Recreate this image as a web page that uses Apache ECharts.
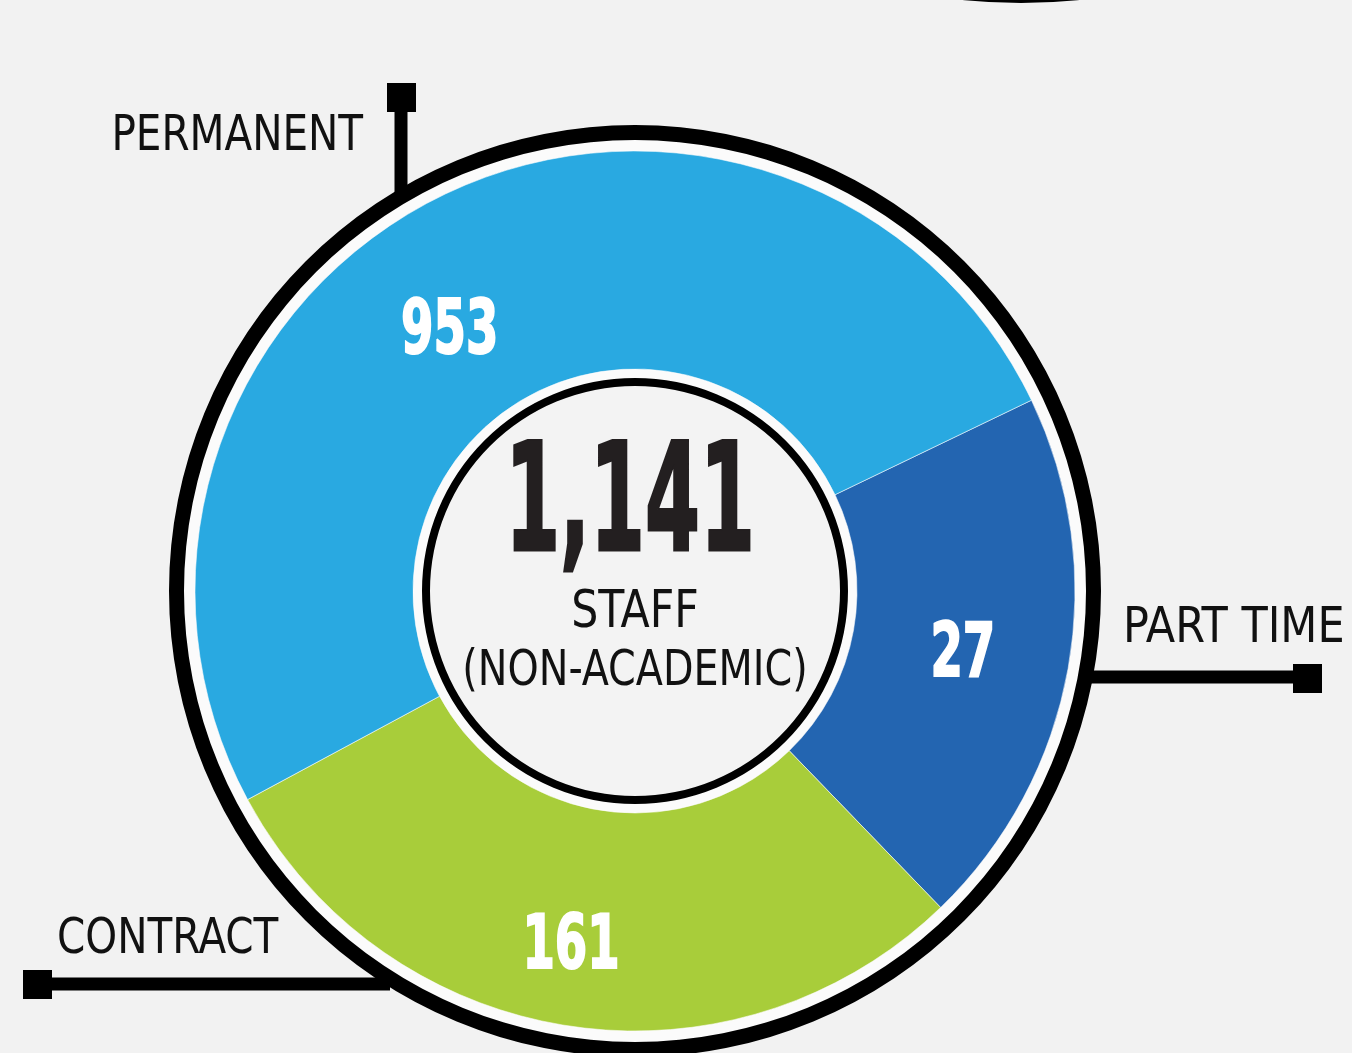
<!DOCTYPE html>
<html>
<head>
<meta charset="utf-8">
<script src="https://cdn.jsdelivr.net/npm/echarts@6/dist/echarts.min.js"></script>
<style>
html,body{margin:0;padding:0;background:#f2f2f2;}
#chart{width:1352px;height:1053px;}
</style>
</head>
<body>
<div id="chart"></div>
<script>
// ---- data (drawing order, clockwise from the part-time edge) ----
var categories = ['PART TIME', 'CONTRACT', 'PERMANENT'];
var staffCounts = [27, 161, 953];
// arc size of each slice as drawn in the original graphic (degrees)
var drawnArcDeg = [71.7, 105.7, 182.6];
var sliceColors = ['#2365b1', '#a8cd3a', '#29a9e1'];
var totalLabel = '1,141';
var centerLines = ['STAFF', '(NON-ACADEMIC)'];

var CX = 635, CY = 591, START = 25.7;
var FONT = "'Liberation Sans Narrow', 'DejaVu Sans Condensed', 'Roboto', sans-serif";

var chart = echarts.init(document.getElementById('chart'), null, {renderer: 'canvas'});

var pieData = categories.map(function (c, i) {
  return {name: c, value: drawnArcDeg[i], itemStyle: {color: sliceColors[i]}};
});

// value labels placed at each slice's mid-angle through a polar axis that mirrors the pie
// polar dimensions are [radius, angle]
var cum = 0;
var labelData = categories.map(function (c, i) {
  var mid = cum + drawnArcDeg[i] / 2;
  cum += drawnArcDeg[i];
  return [0.5, mid, staffCounts[i]];
});
var labelShift = [[2, 7], [-13, 31], [-35, 38]];

function calloutText(name, x, y, align, sx) {
  return {type: 'text', z: 10, x: x, y: y, scaleX: sx, style: {text: name, x: 0, y: 0, textAlign: align,
    textVerticalAlign: 'middle', font: '50px ' + FONT, fill: '#111'}};
}

var graphics = [
  // piece of another ring at the top edge
  {type: 'circle', shape: {cx: 1021, cy: -570, r: 573}, style: {fill: '#000'}},
  // outer frame rings
  {type: 'ring', shape: {cx: CX, cy: CY, r: 452, r0: 440}, style: {fill: '#fbfbfb'}},
  {type: 'ring', shape: {cx: CX, cy: CY, r: 466, r0: 451}, style: {fill: '#000'}},
  // inner hub
  {type: 'circle', shape: {cx: CX, cy: CY, r: 222}, style: {fill: '#fbfbfb'}},
  {type: 'circle', shape: {cx: CX, cy: CY, r: 206}, style: {fill: '#f3f3f3'}},
  {type: 'ring', shape: {cx: CX, cy: CY, r: 213, r0: 205}, style: {fill: '#000'}},
  // callout: permanent
  {type: 'line', shape: {x1: 401, y1: 100, x2: 401, y2: 195}, style: {stroke: '#000', lineWidth: 13}},
  {type: 'rect', shape: {x: 387, y: 83, width: 29, height: 29}, style: {fill: '#000'}},
  // callout: part time
  {type: 'line', shape: {x1: 1088, y1: 677, x2: 1310, y2: 677}, style: {stroke: '#000', lineWidth: 13}},
  {type: 'rect', shape: {x: 1293, y: 664, width: 29, height: 29}, style: {fill: '#000'}},
  // callout: contract
  {type: 'line', shape: {x1: 40, y1: 984, x2: 390, y2: 984}, style: {stroke: '#000', lineWidth: 13}},
  {type: 'rect', shape: {x: 23, y: 970, width: 29, height: 29}, style: {fill: '#000'}},
  calloutText(categories[2], 363, 137, 'right', 0.9),
  calloutText(categories[0], 1123, 629, 'left', 0.955),
  calloutText(categories[1], 57, 940, 'left', 0.9),
  // centre text
  {type: 'text', z: 10, x: 630, y: 511, scaleX: 0.585, style: {text: totalLabel, x: 0, y: 0, textAlign: 'center',
    textVerticalAlign: 'middle', font: 'bold 150px ' + FONT, fill: '#231f20', stroke: '#231f20', lineWidth: 3}},
  {type: 'text', z: 10, x: 635, y: 614, scaleX: 0.93, style: {text: centerLines[0], x: 0, y: 0, textAlign: 'center',
    textVerticalAlign: 'middle', font: '51px ' + FONT, fill: '#111'}},
  {type: 'text', z: 10, x: 635, y: 672, scaleX: 0.9, style: {text: centerLines[1], x: 0, y: 0, textAlign: 'center',
    textVerticalAlign: 'middle', font: '49px ' + FONT, fill: '#111'}}
];

chart.setOption({
  backgroundColor: '#f2f2f2',
  animation: false,
  graphic: graphics,
  polar: {center: [CX, CY], radius: [222, 440]},
  angleAxis: {type: 'value', min: 0, max: 360, startAngle: START, clockwise: true, show: false},
  radiusAxis: {type: 'value', min: 0, max: 1, show: false},
  series: [{
    type: 'pie',
    center: [CX, CY],
    radius: [222, 440],
    startAngle: START,
    clockwise: true,
    silent: true,
    data: pieData,
    itemStyle: {borderColor: 'rgba(255,255,255,0.55)', borderWidth: 1},
    label: {show: false},
    labelLine: {show: false},
    emphasis: {disabled: true}
  }, {
    type: 'custom',
    coordinateSystem: 'polar',
    silent: true,
    z: 5,
    data: labelData,
    renderItem: function (params, api) {
      var p = api.coord([api.value(0), api.value(1)]);
      var s = labelShift[params.dataIndex];
      return {type: 'text', x: p[0] + s[0], y: p[1] + s[1], scaleX: 0.7,
        style: {text: String(api.value(2)), x: 0, y: 0, align: 'center', verticalAlign: 'middle',
          font: 'bold 74px ' + FONT, fill: '#fff', stroke: '#fff', lineWidth: 2}};
    }
  }]
});
</script>
</body>
</html>
